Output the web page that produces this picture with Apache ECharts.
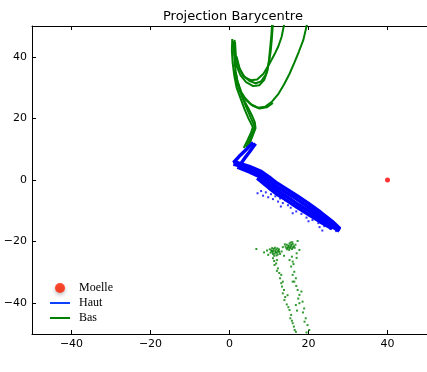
<!DOCTYPE html>
<html>
<head>
<meta charset="utf-8">
<script src="https://cdn.jsdelivr.net/npm/echarts@6/dist/echarts.min.js"></script>
<style>
html,body{margin:0;padding:0;background:#fff;}
#chart{width:427px;height:372px;}
</style>
</head>
<body>
<div id="chart"></div>
<script>
// ---------- data ----------
const titleText = 'Projection Barycentre';
const xTicks = [-40, -20, 0, 20, 40];
const yTicks = [-40, -20, 0, 20, 40];

// Moelle (single red point)
const moelle = [[40, 0]];

// Haut (blue) : dense trajectories drawn as strands
const hautStrands = [
  [[1.0,6.0],[3.0,5.2],[5.0,4.4],[8.0,2.8],[10.0,1.0],[12.0,-1.0],[14.0,-2.6],[17.0,-5.0],[20.0,-7.6],[23.0,-10.4],[26.0,-13.4],[28.0,-15.8]],
  [[1.0,5.2],[3.0,4.4],[5.0,3.5],[8.0,1.8],[10.0,-0.2],[12.0,-2.2],[14.0,-3.8],[17.0,-6.2],[20.0,-8.8],[23.0,-11.6],[26.0,-14.4],[28.0,-16.2]],
  [[2.0,4.2],[5.0,2.6],[8.0,0.8],[10.0,-1.4],[12.0,-3.4],[14.0,-5.0],[17.0,-7.6],[20.0,-10.0],[23.0,-12.6],[26.0,-15.2],[27.8,-16.6]],
  [[7.0,0.6],[10.0,-2.6],[12.0,-4.6],[14.0,-6.2],[17.0,-8.8],[20.0,-11.2],[23.0,-13.6],[26.0,-15.8]],
  [[1.0,5.6],[2.4,7.6],[4.0,9.6],[5.4,11.4],[6.0,12.2]],
  [[2.6,4.8],[3.8,7.0],[5.0,9.0],[6.0,10.8],[6.6,11.8]]
];
// Haut scattered points
const hautDots = [
  [7.1,-4.3],[8.5,-5.1],[9.2,-4.0],[9.8,-5.6],[10.5,-4.6],[11.0,-6.2],[11.6,-5.3],[12.3,-7.0],[12.8,-6.0],
  [13.5,-7.5],[14.2,-6.6],[14.8,-8.2],[15.5,-9.0],[16.2,-8.0],[16.9,-10.2],[17.5,-9.3],[18.2,-11.0],
  [18.8,-10.4],[19.5,-12.2],[20.3,-11.5],[21.0,-13.0],[21.8,-12.6],[22.5,-14.0],[23.2,-13.5],[24.0,-15.0],
  [24.8,-14.4],[25.5,-15.8],[26.3,-15.4],[27.0,-16.6],[20.0,-13.4],[22.8,-15.3],[16.0,-10.8],[13.0,-8.6],
  [23.5,-16.4],[10.3,-2.8],[12.5,-3.0],[8.0,-3.6],[21.5,-10.2],[18.0,-8.0],[16.0,-4.3],[15.2,-3.9]
];

// Bas (green) : upper trajectories drawn as strands
const basStrands = [
  [[3.6,10.4],[4.6,13.0],[5.5,15.5],[5.9,17.2],[4.8,20.0],[3.8,23.0],[2.8,26.5],[1.8,30.0],[1.2,34.0],[0.8,38.0],[0.6,42.0],[0.7,45.8]],
  [[4.2,10.6],[5.2,13.4],[6.1,16.0],[6.3,17.6],[5.4,20.2],[4.3,23.5],[3.2,27.0],[2.3,30.5],[1.7,34.0],[1.3,38.0],[1.2,42.0],[1.3,45.5]],
  [[4.8,11.0],[5.8,14.2],[6.6,16.8],[6.4,18.8],[5.8,20.6],[4.8,23.2],[3.6,26.0],[2.6,29.0],[2.0,32.0],[1.6,35.0]],
  [[1.0,45.2],[1.2,41.0],[1.8,37.0],[2.8,34.0],[4.2,31.8],[6.0,30.5],[7.6,30.8],[8.8,32.5],[9.6,35.5],[10.0,39.0],[10.3,43.0],[10.6,47.0],[10.8,51.0]],
  [[1.4,44.8],[1.6,40.5],[2.3,36.8],[3.4,34.0],[5.0,32.2],[6.6,31.4],[8.0,32.0],[9.2,34.2],[9.9,37.5],[10.4,41.5],[10.7,45.5],[11.0,51.0]],
  [[1.8,40.0],[2.6,36.0],[3.8,33.4],[5.4,32.4],[7.0,32.6],[8.6,34.5],[10.0,37.5],[11.4,40.8],[12.4,43.5],[13.2,46.5],[13.9,51.0]],
  [[1.2,36.0],[1.8,32.0],[2.6,29.0],[3.8,26.8],[5.4,24.6],[7.2,23.5],[9.0,23.8],[10.8,25.5],[12.4,28.0],[13.8,31.0],[15.2,34.5],[16.4,38.0],[17.6,41.8],[18.7,45.5],[19.7,51.0]],
  [[2.2,31.5],[3.0,28.5],[4.2,26.0],[5.8,24.2],[7.6,23.2],[9.4,23.6],[11.0,25.0]]
];
// Bas scattered points (lower clusters and streams)
const basDots = [
  [10.6,-22.8],[10.9,-23.4],[11.2,-22.4],[11.4,-23.9],[11.6,-23.1],[11.8,-22.6],[12.0,-23.6],[12.2,-24.2],
  [12.4,-22.9],[11.0,-24.0],[10.4,-23.6],[11.5,-22.0],[12.6,-23.4],[11.9,-24.5],[10.8,-22.1],[12.1,-22.2],
  [11.3,-24.6],[12.8,-24.0],[10.2,-22.5],[11.7,-23.5],[12.3,-23.1],[10.7,-23.1],[11.1,-23.0],[12.5,-22.5],
  [14.2,-21.6],[14.5,-21.0],[14.8,-22.0],[15.0,-21.3],[15.2,-20.6],[15.4,-21.8],[15.6,-21.1],[15.8,-22.4],
  [16.0,-20.8],[16.3,-21.5],[14.6,-22.5],[15.1,-22.7],[15.5,-20.3],[16.5,-22.0],[14.0,-20.9],[14.9,-21.5],
  [15.3,-22.1],[15.7,-21.6],[16.1,-21.9],[14.4,-22.1],[16.7,-21.0],[15.9,-20.2],
  [6.8,-22.4],[8.75,-23.5],[9.5,-22.9],[17.7,-22.7],[17.25,-19.8],[13.5,-21.8],[13.2,-23.2],[9.8,-24.3],
  [17.0,-23.8],[13.8,-24.6],
  [11.0,-25.4],[11.3,-26.3],[11.4,-27.6],[11.8,-27.1],[12.25,-28.7],[12.0,-29.5],[12.6,-30.2],[13.1,-30.8],
  [12.8,-31.9],[13.5,-33.0],[13.1,-33.5],[13.3,-34.6],[13.5,-36.8],[13.8,-35.7],[13.9,-39.0],[14.1,-38.0],
  [14.5,-40.4],[15.2,-42.2],[14.9,-41.3],[15.6,-43.8],[15.4,-44.9],[16.0,-46.5],[15.8,-45.7],[16.3,-47.6],
  [16.8,-49.3],[16.5,-48.7],[12.0,-26.0],[14.7,-37.4],
  [15.2,-26.0],[16.0,-26.5],[15.6,-28.1],[16.2,-27.3],[16.4,-29.8],[16.0,-30.8],[16.8,-31.9],[16.0,-33.0],
  [16.4,-33.0],[17.25,-35.7],[16.9,-34.4],[17.7,-37.3],[17.4,-38.5],[18.5,-39.5],[17.7,-40.0],[16.8,-40.6],
  [18.9,-41.7],[18.6,-43.0],[19.3,-44.9],[19.0,-46.0],[19.75,-47.1],[20.2,-48.7],[19.5,-49.5],[18.2,-36.2],
  [17.1,-42.4],[15.8,-24.9],[17.0,-25.3]
];

// ---------- chart ----------
const RED = '#ff0000', BLUE = '#0000ff', GREEN = '#008000';
const tickFont = {fontFamily: 'DejaVu Sans', fontSize: 11, color: '#000'};
const minusFmt = v => String(v).replace('-', '\u2212');
const lineIcon = 'path://M0,0 L20,0 L20,2 L0,2 Z';

const series = [];
basStrands.forEach(s => series.push({
  name: 'Bas', type: 'line', data: s, symbol: 'none', silent: true,
  lineStyle: {color: GREEN, width: 2}, itemStyle: {color: GREEN}
}));
series.push({
  name: 'Bas', type: 'scatter', data: basDots, symbol: 'rect', symbolSize: 2,
  itemStyle: {color: GREEN}, silent: true
});
hautStrands.forEach(s => series.push({
  name: 'Haut', type: 'line', data: s, symbol: 'none', silent: true,
  lineStyle: {color: BLUE, width: 3.5}, itemStyle: {color: BLUE}
}));
series.push({
  name: 'Haut', type: 'scatter', data: hautDots, symbol: 'rect', symbolSize: 2,
  itemStyle: {color: BLUE}, silent: true
});
series.push({
  name: 'Moelle', type: 'scatter', data: moelle, symbol: 'circle', symbolSize: 5,
  itemStyle: {color: RED}, silent: true
});

const chart = echarts.init(document.getElementById('chart'), null, {renderer: 'canvas'});
chart.setOption({
  animation: false,
  backgroundColor: '#fff',
  title: {
    text: titleText, left: 163, top: 10, padding: 0,
    textStyle: {fontFamily: 'DejaVu Sans', fontSize: 13, fontWeight: 'normal', color: '#000'}
  },
  grid: {left: 32, top: 26, width: 400, height: 308, containLabel: false},
  xAxis: [{
    type: 'value', position: 'bottom', min: -50, max: 50,
    axisLine: {show: true, onZero: false, lineStyle: {color: '#000', width: 1}},
    axisTick: {show: true, inside: true, length: 4, lineStyle: {color: '#000'}, customValues: xTicks},
    axisLabel: {show: true, margin: 5, customValues: xTicks, formatter: minusFmt, ...tickFont},
    splitLine: {show: false}
  }, {
    type: 'value', position: 'top', min: -50, max: 50,
    axisLine: {show: true, onZero: false, lineStyle: {color: '#000', width: 1}},
    axisTick: {show: true, inside: true, length: 4, lineStyle: {color: '#000'}, customValues: xTicks},
    axisLabel: {show: false},
    splitLine: {show: false}
  }],
  yAxis: [{
    type: 'value', position: 'left', min: -50, max: 50,
    axisLine: {show: true, onZero: false, lineStyle: {color: '#000', width: 1}},
    axisTick: {show: true, inside: true, length: 4, lineStyle: {color: '#000'}, customValues: yTicks},
    axisLabel: {show: true, margin: 5, customValues: yTicks, formatter: minusFmt, ...tickFont},
    splitLine: {show: false}
  }],
  legend: {
    orient: 'vertical', left: 50, top: 282, itemWidth: 20, itemHeight: 10, itemGap: 3,
    padding: 0,
    textStyle: {fontFamily: 'Liberation Serif', fontSize: 12, color: '#000', padding: [0, 0, 0, 4]},
    data: [
      {name: 'Moelle', icon: 'circle', itemStyle: {color: '#ff2000', shadowBlur: 4, shadowColor: 'rgba(0,0,0,0.35)', shadowOffsetY: 2}},
      {name: 'Haut', icon: lineIcon, itemStyle: {color: '#1040ff'}},
      {name: 'Bas', icon: lineIcon, itemStyle: {color: GREEN}}
    ],
    selectedMode: false
  },
  series: series
});
</script>
</body>
</html>
